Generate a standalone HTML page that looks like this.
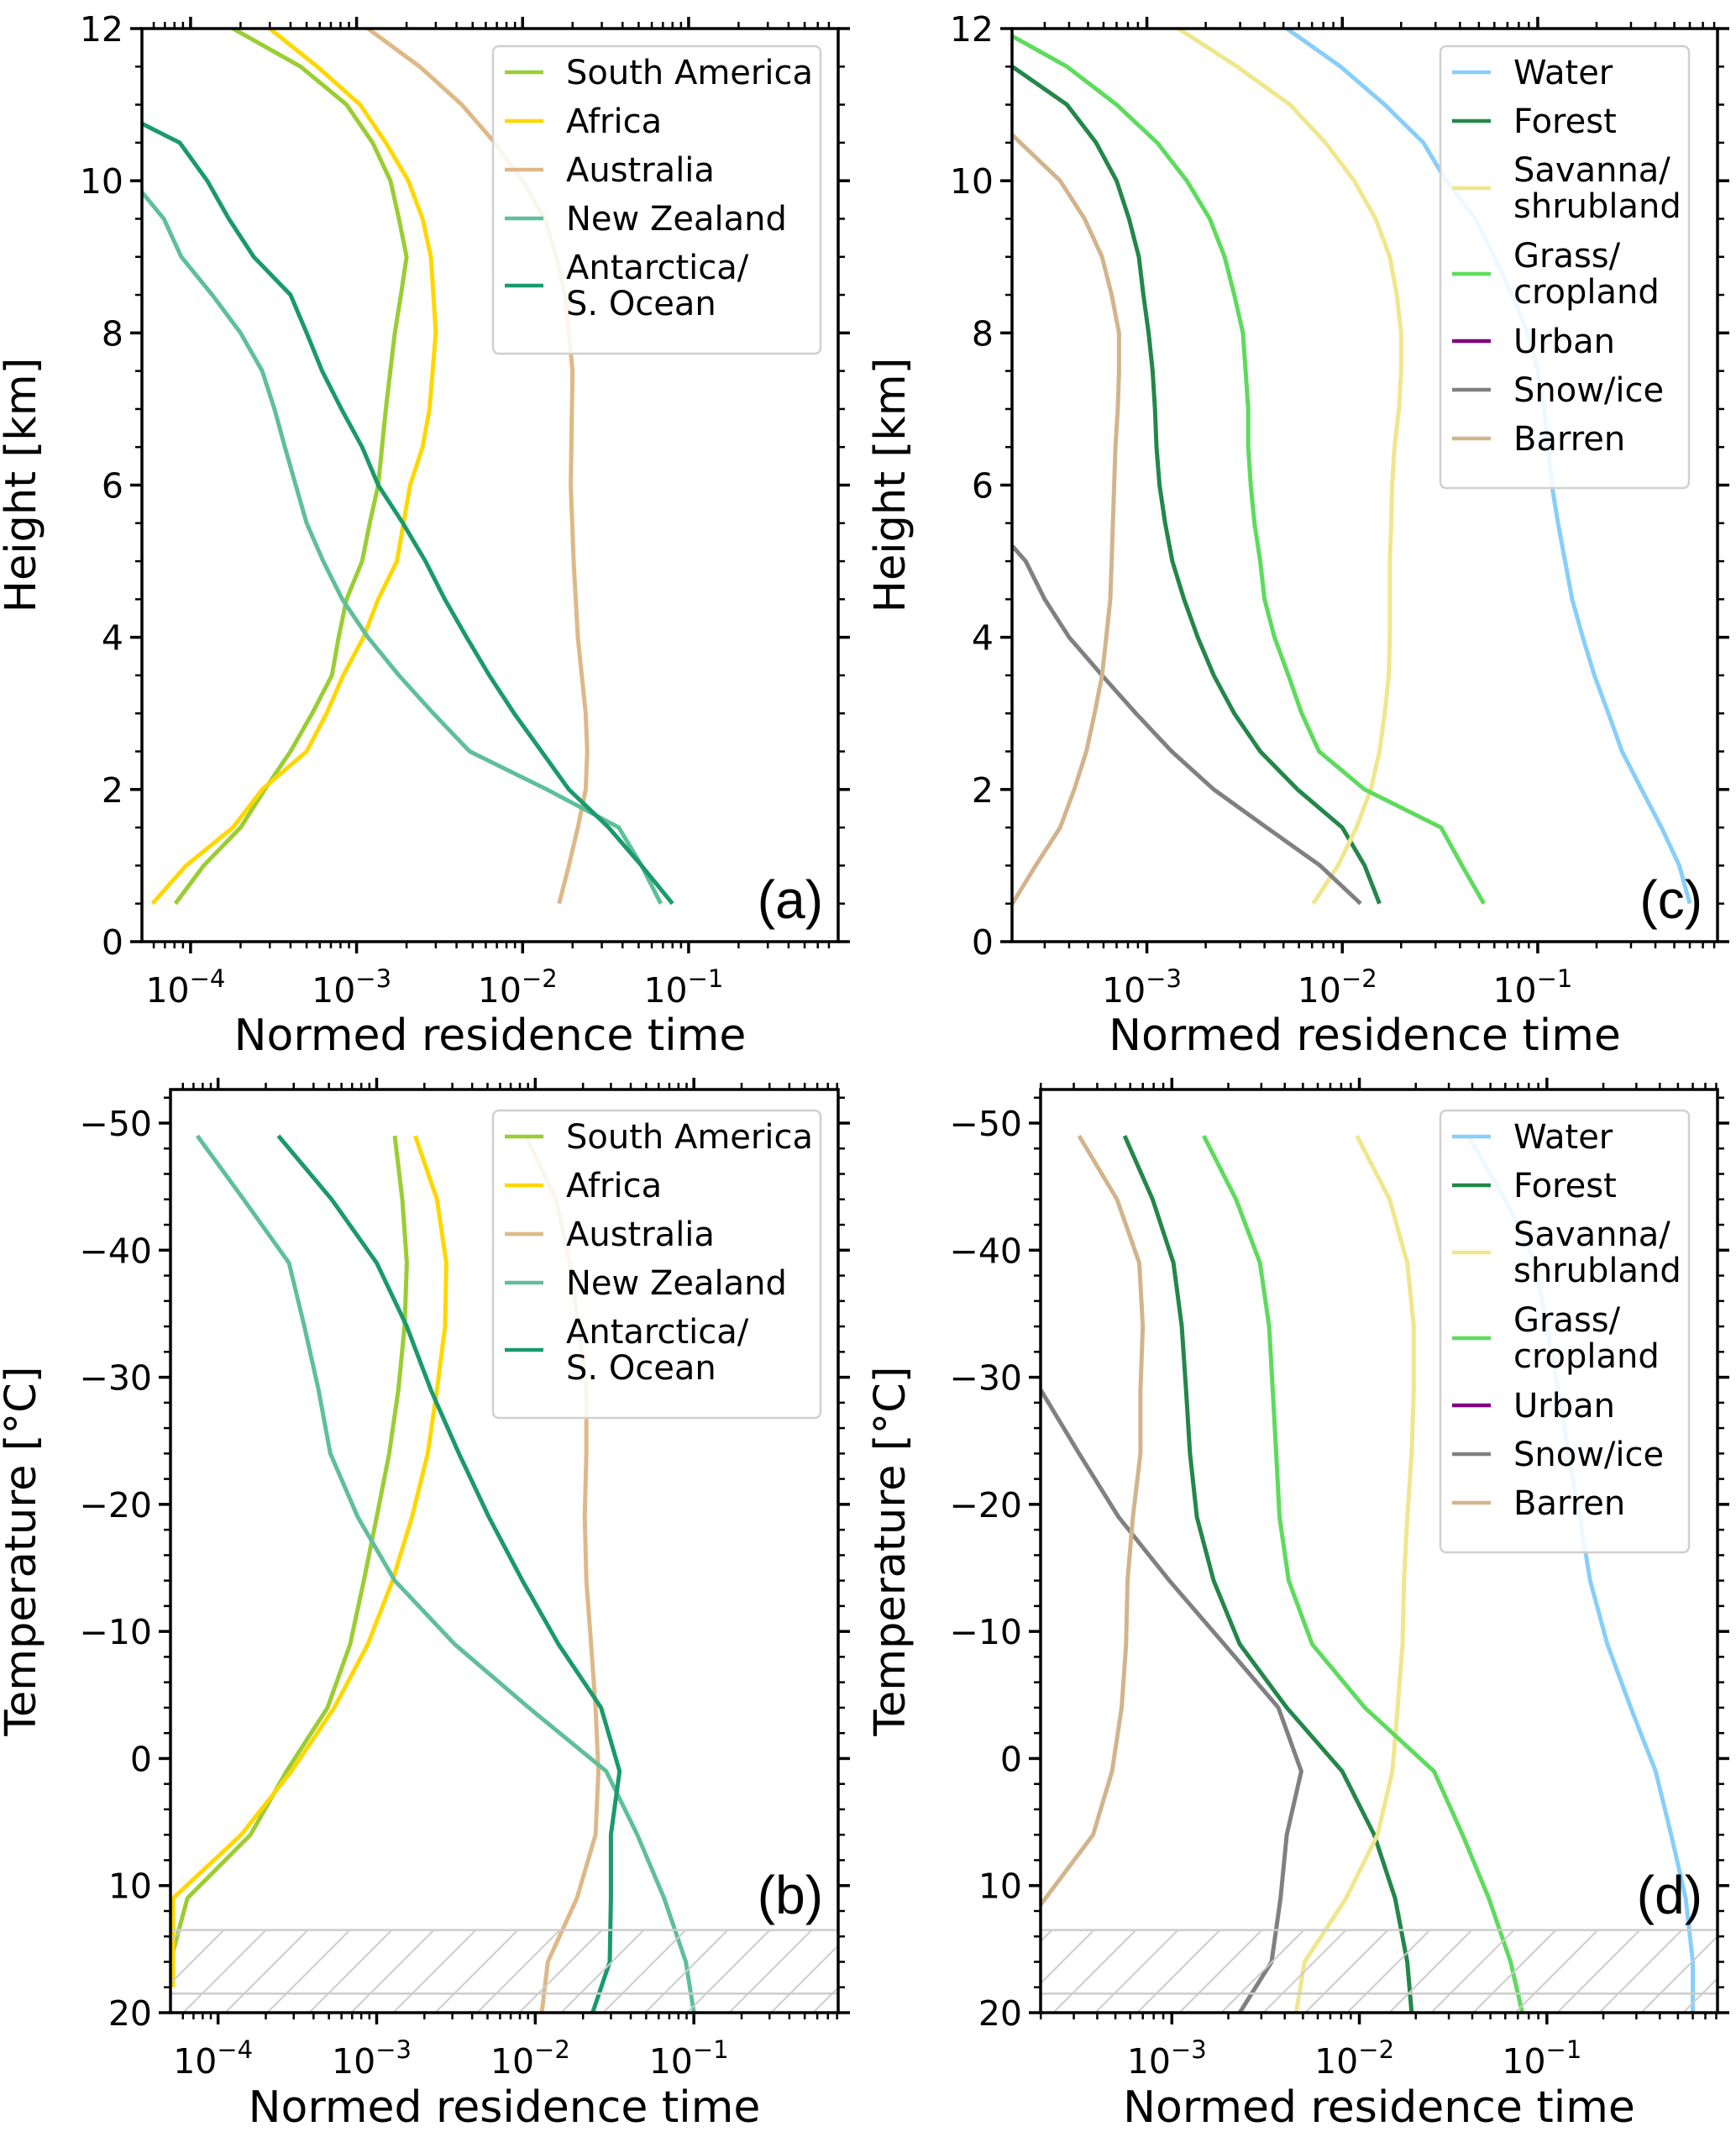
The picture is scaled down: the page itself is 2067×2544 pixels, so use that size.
<!DOCTYPE html>
<html><head><meta charset="utf-8"><style>
html,body{margin:0;padding:0;background:#fff;}
svg{display:block;font-family:"DejaVu Sans","Liberation Sans",sans-serif;}
</style></head><body>
<svg id="fig" width="2067" height="2544" viewBox="0 0 2067 2544" xmlns="http://www.w3.org/2000/svg"></svg>
<script>
// ---------- DATA ----------
// Panel (a): height [km] vs normed residence time, by region
const aSAy=[12,11.5,11,10.5,10,9.5,9,8.5,8,7,6,5.5,5,4.5,4,3.5,3,2.5,2,1.5,1,0.5];
const aSAx=[1.8e-4,4.6e-4,8.7e-4,1.25e-3,1.6e-3,1.8e-3,2.0e-3,1.85e-3,1.7e-3,1.5e-3,1.35e-3,1.2e-3,1.08e-3,8.7e-4,7.8e-4,7.1e-4,5.4e-4,4e-4,2.8e-4,2.0e-4,1.2e-4,8.1e-5];
const aAFy=[12,11.5,11,10.5,10,9.5,9,8.5,8,7,6.5,6,5,4.5,4,3.5,3,2.5,2,1.5,1,0.5];
const aAFx=[3.0e-4,5.8e-4,1.05e-3,1.5e-3,2.05e-3,2.5e-3,2.8e-3,2.9e-3,3.0e-3,2.75e-3,2.5e-3,2.1e-3,1.75e-3,1.35e-3,1.1e-3,8.3e-4,6.6e-4,5.0e-4,2.7e-4,1.8e-4,9.4e-5,5.9e-5];
const aAUy=[12,11.5,11,10.5,10,9.5,9,8.5,8,7.5,6,5,4,3,2.5,2,1.5,1,0.5];
const aAUx=[1.17e-3,2.4e-3,4.3e-3,6.8e-3,1e-2,1.36e-2,1.6e-2,1.8e-2,1.9e-2,2e-2,1.95e-2,2.03e-2,2.15e-2,2.4e-2,2.45e-2,2.4e-2,2.15e-2,1.9e-2,1.66e-2];
const aNZy=[9.85,9.5,9,8.5,8,7.5,7,6.5,6,5.5,5,4.5,4,3.5,3,2.5,2,1.5,1,0.5];
const aNZx=[5.1e-5,6.9e-5,8.8e-5,1.35e-4,2.0e-4,2.7e-4,3.2e-4,3.7e-4,4.3e-4,5e-4,6.3e-4,8.2e-4,1.17e-3,1.8e-3,2.9e-3,4.8e-3,1.4e-2,3.8e-2,5.2e-2,6.8e-2];
const aANy=[10.75,10.5,10,9.5,9,8.5,8,7.5,7,6.5,6,5.5,5,4.5,4,3.5,3,2.5,2,1.5,1,0.5];
const aANx=[5.1e-5,8.6e-5,1.26e-4,1.7e-4,2.4e-4,4e-4,5e-4,6.2e-4,8.1e-4,1.08e-3,1.35e-3,1.9e-3,2.6e-3,3.4e-3,4.6e-3,6.3e-3,8.9e-3,1.3e-2,1.9e-2,3.3e-2,5.2e-2,8e-2];
// Panel (b): temperature [°C] by region
const bT=[-49,-44,-39,-34,-29,-24,-19,-14,-9,-4,1,6,11,16,20];
const bSAx=[1.3e-3,1.45e-3,1.55e-3,1.5e-3,1.37e-3,1.2e-3,1.0e-3,8.3e-4,6.8e-4,4.9e-4,2.7e-4,1.6e-4,6.4e-5,5.0e-5];
const bAFT=[-49,-44,-39,-34,-29,-24,-19,-14,-9,-4,1,6,11,18];
const bAFx=[1.75e-3,2.4e-3,2.75e-3,2.7e-3,2.4e-3,2.1e-3,1.67e-3,1.26e-3,8.8e-4,5.4e-4,2.9e-4,1.4e-4,5.2e-5,5.2e-5];
const bAUx=[8.7e-3,1.35e-2,1.65e-2,1.87e-2,2.1e-2,2.1e-2,2.05e-2,2.1e-2,2.25e-2,2.4e-2,2.5e-2,2.4e-2,1.83e-2,1.2e-2,1.1e-2];
const bNZx=[7.4e-5,1.45e-4,2.8e-4,3.5e-4,4.3e-4,5.1e-4,7.6e-4,1.3e-3,3.1e-3,9.1e-3,2.8e-2,4.4e-2,6.5e-2,8.9e-2,1e-1];
const bANx=[2.4e-4,5.2e-4,1e-3,1.55e-3,2.2e-3,3.3e-3,5.1e-3,8.3e-3,1.4e-2,2.6e-2,3.4e-2,3.0e-2,3.0e-2,2.95e-2,2.3e-2];
// Panel (c): height by land cover
const cH=[12,11.5,11,10.5,10,9.5,9,8.5,8,7.5,7,6.5,6,5.5,5,4.5,4,3.5,3,2.5,2,1.5,1,0.5];
const cWAx=[5.2e-3,9.8e-3,1.65e-2,2.6e-2,3.4e-2,4.8e-2,6e-2,7.4e-2,8.9e-2,0.1,0.108,0.113,0.118,0.127,0.138,0.15,0.17,0.195,0.23,0.27,0.34,0.43,0.53,0.6];
const cFOy=[11.5,11,10.5,10,9.5,9,8.5,8,7.5,7,6.5,6,5.5,5,4.5,4,3.5,3,2.5,2,1.5,1,0.5];
const cFOx=[2.05e-4,3.9e-4,5.5e-4,7.0e-4,8.1e-4,9.1e-4,9.6e-4,1.02e-3,1.07e-3,1.1e-3,1.12e-3,1.16e-3,1.24e-3,1.35e-3,1.55e-3,1.82e-3,2.2e-3,2.8e-3,3.8e-3,5.9e-3,1.0e-2,1.3e-2,1.55e-2];
const cSAx=[1.45e-3,2.9e-3,5.4e-3,8.2e-3,1.15e-2,1.48e-2,1.75e-2,1.9e-2,2e-2,2e-2,1.95e-2,1.85e-2,1.8e-2,1.78e-2,1.75e-2,1.75e-2,1.75e-2,1.73e-2,1.65e-2,1.55e-2,1.4e-2,1.18e-2,9.5e-3,7.1e-3];
const cGRy=[11.9,11.5,11,10.5,10,9.5,9,8.5,8,7.5,7,6.5,6,5.5,5,4.5,4,3.5,3,2.5,2,1.5,1,0.5];
const cGRx=[2.05e-4,3.9e-4,7.0e-4,1.13e-3,1.6e-3,2.1e-3,2.5e-3,2.8e-3,3.1e-3,3.2e-3,3.3e-3,3.3e-3,3.4e-3,3.55e-3,3.8e-3,4e-3,4.5e-3,5.3e-3,6.2e-3,7.6e-3,1.3e-2,3.2e-2,4.1e-2,5.3e-2];
const cSNy=[5.2,5,4.5,4,3.5,3,2.5,2,1.5,1,0.5];
const cSNx=[2.05e-4,2.4e-4,3.0e-4,4e-4,5.9e-4,8.8e-4,1.34e-3,2.2e-3,4.1e-3,7.7e-3,1.24e-2];
const cBAy=[10.6,10,9.5,9,8.5,8,7.5,7,6.5,6,5.5,5,4.5,4,3.5,3,2.5,2,1.5,1,0.5];
const cBAx=[2.05e-4,3.6e-4,4.8e-4,5.9e-4,6.6e-4,7.2e-4,7.2e-4,7.1e-4,6.9e-4,6.8e-4,6.7e-4,6.6e-4,6.5e-4,6.2e-4,5.9e-4,5.4e-4,4.9e-4,4.25e-4,3.6e-4,2.7e-4,2.05e-4];
// Panel (d): temperature by land cover
const dT=[-49,-44,-39,-34,-29,-24,-19,-14,-9,-4,1,6,11,16,20];
const dWAx=[3.8e-2,6e-2,8.7e-2,0.1,0.115,0.13,0.15,0.17,0.21,0.28,0.38,0.46,0.55,0.6,0.6];
const dFOx=[5.6e-4,7.9e-4,1.02e-3,1.13e-3,1.19e-3,1.25e-3,1.36e-3,1.67e-3,2.3e-3,4.1e-3,8.1e-3,1.2e-2,1.55e-2,1.8e-2,1.9e-2];
const dSAx=[9.7e-3,1.45e-2,1.8e-2,1.95e-2,1.95e-2,1.9e-2,1.8e-2,1.73e-2,1.7e-2,1.6e-2,1.5e-2,1.25e-2,8.5e-3,5.1e-3,4.6e-3];
const dGRx=[1.48e-3,2.2e-3,2.95e-3,3.3e-3,3.45e-3,3.6e-3,3.75e-3,4.2e-3,5.6e-3,1.07e-2,2.5e-2,3.55e-2,4.9e-2,6.4e-2,7.4e-2];
const dSNT=[-29,-24,-19,-14,-9,-4,1,6,11,16,20];
const dSNx=[2e-4,3.2e-4,5.2e-4,9.7e-4,1.9e-3,3.7e-3,4.9e-3,4.1e-3,3.8e-3,3.4e-3,2.3e-3];
const dBAT=[-49,-44,-39,-34,-29,-24,-19,-14,-9,-4,1,6,11.5];
const dBAx=[3.2e-4,5.1e-4,6.7e-4,7e-4,6.8e-4,6.8e-4,6.2e-4,5.8e-4,5.7e-4,5.4e-4,4.8e-4,3.8e-4,2.0e-4];
// Tick labels / legend labels
const heightTicks=[0,2,4,6,8,10,12];
const tempTicks=[-50,-40,-30,-20,-10,0,10,20];
const regionNames=["South America","Africa","Australia","New Zealand","Antarctica/\nS. Ocean"];
const coverNames=["Water","Forest","Savanna/\nshrubland","Grass/\ncropland","Urban","Snow/ice","Barren"];

// ---------- DRAWING ----------
const NS="http://www.w3.org/2000/svg";
const svg=document.getElementById('fig');
function mk(tag,attrs,parent){const e=document.createElementNS(NS,tag);for(const k in attrs)e.setAttribute(k,attrs[k]);(parent||svg).appendChild(e);return e;}
const C={sa:"#9acd32",af:"#ffd700",au:"#deb887",nz:"#5fbf9a",an:"#1a9a6c",wa:"#87cefa",fo:"#23874a",sv:"#f0e68c",gr:"#5ddb5d",ur:"#800080",sn:"#808080",ba:"#d2b48c"};
const regionColors=[C.sa,C.af,C.au,C.nz,C.an];
const coverColors=[C.wa,C.fo,C.sv,C.gr,C.ur,C.sn,C.ba];

function makePanel(id,p){
  const g=mk('g',{});
  
  
  const xs=v=>p.L+(Math.log10(v)-p.lx0)/(p.lx1-p.lx0)*(p.R-p.L);
  p.xs=xs; p.g=g;
  const cp=mk('clipPath',{id:'clip-'+id},g);
  mk('rect',{x:p.L,y:p.T,width:p.R-p.L,height:p.B-p.T},cp);
  p.lines=mk('g',{'clip-path':'url(#clip-'+id+')'},g);
  return p;
}
function addHatch(p,y0,y1,yl){
  const hg=mk('g',{'clip-path':'url(#clip-'+p.id+')'},p.g);
  
  
  const Y0=p.ys(y0),Y1=p.ys(y1);
  const cp=mk('clipPath',{id:'hclip-'+p.id},p.g);
  mk('rect',{x:p.L,y:Y0,width:p.R-p.L,height:Y1-Y0},cp);
  const h2=mk('g',{'clip-path':'url(#hclip-'+p.id+')'},hg);
  for(let x=p.L-200;x<p.R+200;x+=50){mk('line',{x1:x,y1:Y1,x2:x+(Y1-Y0),y2:Y0,stroke:'#cccccc','stroke-width':2},h2);}
  mk('line',{x1:p.L,x2:p.R,y1:Y0,y2:Y0,stroke:'#cccccc','stroke-width':2.5},hg);
  mk('line',{x1:p.L,x2:p.R,y1:p.ys(yl),y2:p.ys(yl),stroke:'#cccccc','stroke-width':2.5},hg);
}
function series(p,name,xv,yv,color){
  let d='';
  for(let i=0;i<xv.length;i++){d+=(i?'L':'M')+p.xs(xv[i]).toFixed(1)+','+p.ys(yv[i]).toFixed(1);}
  const path=mk('path',{d:d,fill:'none',stroke:color,'stroke-width':5,'stroke-linejoin':'round'},p.lines);
  
  
}
function axes(p,yticks,minorStep,ylabel,xlabel,plabel){
  const g=p.g;
  mk('rect',{x:p.L,y:p.T,width:p.R-p.L,height:p.B-p.T,fill:'none',stroke:'#000','stroke-width':3.5},g);
  const xt=mk('g',{},g);
  
  
  for(let e=-5;e<=1;e++){
    for(let m=1;m<10;m++){
      const v=m*Math.pow(10,e); const lv=Math.log10(v);
      if(lv<p.lx0-1e-9||lv>p.lx1+1e-9)continue;
      const x=p.xs(v); const len=m===1?14:8; const w=m===1?3.5:2.5;
      mk('line',{x1:x,x2:x,y1:p.B,y2:p.B+len,stroke:'#000','stroke-width':w},xt);
      mk('line',{x1:x,x2:x,y1:p.T,y2:p.T-len,stroke:'#000','stroke-width':w},xt);
      if(m===1&&e<0){
        const t=mk('text',{x:x-6,y:p.B+72,'font-size':41,'text-anchor':'middle'},xt);
        
        
        t.appendChild(document.createTextNode('10'));
        const s=mk('tspan',{dy:-18,'font-size':29},t); s.textContent='\u2212'+(-e);
      }
    }
  }
  const yt=mk('g',{},g);
  
  
  const ymin=Math.min(p.y0,p.y1), ymax=Math.max(p.y0,p.y1);
  for(let v=Math.ceil(ymin/minorStep)*minorStep;v<=ymax+1e-9;v+=minorStep){
    const y=p.ys(v); const maj=yticks.some(t=>Math.abs(t-v)<1e-6);
    const len=maj?14:8,w=maj?3.5:2.5;
    mk('line',{x1:p.L,x2:p.L-len,y1:y,y2:y,stroke:'#000','stroke-width':w},yt);
    mk('line',{x1:p.R,x2:p.R+len,y1:y,y2:y,stroke:'#000','stroke-width':w},yt);
  }
  yticks.forEach(v=>{
    const t=mk('text',{x:p.L-22,y:p.ys(v)+15,'font-size':41,'text-anchor':'end'},yt);
    
    
    t.textContent=(v<0?'\u2212':'')+Math.abs(v);
  });
  const yl=mk('text',{x:0,y:0,'font-size':51,'text-anchor':'middle',transform:'translate('+p.ylx+','+((p.T+p.B)/2)+') rotate(-90)'},g);
  
  
  yl.textContent=ylabel;
  const xl=mk('text',{x:(p.L+p.R)/2+p.xlOff,y:p.xly,'font-size':52,'text-anchor':'middle'},g);
  
  
  xl.textContent=xlabel;
  const pl=mk('text',{x:p.R-18,y:p.B-p.plOff,'font-size':64,'text-anchor':'end',
    'font-family':'"Liberation Sans",sans-serif'},g);
  
  
  pl.textContent=plabel;
}
function legend(p,x,y,w,names,colors){
  const lg=mk('g',{},p.g);
  
  
  let h=20; names.forEach(n=>{h+=n.includes('\n')?102:58;}); h+=12;
  mk('rect',{x:x,y:y,width:w,height:h,rx:7,fill:'#fff','fill-opacity':0.85,stroke:'#d0d0d0','stroke-width':2.5},lg);
  let cy=y+31;
  names.forEach((n,i)=>{
    const two=n.includes('\n');
    const ent=mk('g',{},lg);
    
    
    const ly=two?cy+22:cy;
    mk('line',{x1:x+14,x2:x+60,y1:ly,y2:ly,stroke:colors[i],'stroke-width':4.5},ent);
    const parts=n.split('\n');
    parts.forEach((s,j)=>{
      const t=mk('text',{x:x+87,y:cy+14+j*43,'font-size':40},ent);
      t.textContent=s;
    });
    cy+=two?102:58;
  });
}

const pa=makePanel('a',{id:'a',L:169,R:998,T:34,B:1121,lx0:-4.293,lx1:-0.099,y0:0,y1:12,ylx:42,xly:1250,xlOff:0,plOff:28});
pa.ys=v=>pa.B-(v-pa.y0)/(pa.y1-pa.y0)*(pa.B-pa.T);
series(pa,'line-south-america',aSAx,aSAy,C.sa);
series(pa,'line-africa',aAFx,aAFy,C.af);
series(pa,'line-australia',aAUx,aAUy,C.au);
series(pa,'line-new-zealand',aNZx,aNZy,C.nz);
series(pa,'line-antarctica',aANx,aANy,C.an);
axes(pa,heightTicks,0.5,'Height [km]','Normed residence time','(a)');
legend(pa,587,55,390,regionNames,regionColors);

const pb=makePanel('b',{id:'b',L:203,R:998,T:1297,B:2396,lx0:-4.30,lx1:-0.09,y0:-52.6,y1:20,ylx:42,xly:2526,xlOff:0,plOff:118});
pb.ys=v=>1337+(v+50)*(2396-1337)/70;
addHatch(pb,13.5,21,18.5);
series(pb,'line-south-america',bSAx,bT.slice(0,bSAx.length),C.sa);
series(pb,'line-africa',bAFx,bAFT,C.af);
series(pb,'line-australia',bAUx,bT,C.au);
series(pb,'line-new-zealand',bNZx,bT,C.nz);
series(pb,'line-antarctica',bANx,bT,C.an);
axes(pb,tempTicks,2,'Temperature [\u00b0C]','Normed residence time','(b)');
legend(pb,587,1322,390,regionNames,regionColors);

const pc=makePanel('c',{id:'c',L:1205,R:2045,T:34,B:1121,lx0:-3.69,lx1:-0.08,y0:0,y1:12,ylx:1077,xly:1250,xlOff:0,plOff:28});
pc.ys=v=>pc.B-(v-pc.y0)/(pc.y1-pc.y0)*(pc.B-pc.T);
series(pc,'line-water',cWAx,cH,C.wa);
series(pc,'line-forest',cFOx,cFOy,C.fo);
series(pc,'line-savanna',cSAx,cH,C.sv);
series(pc,'line-grass',cGRx,cGRy,C.gr);
series(pc,'line-snow-ice',cSNx,cSNy,C.sn);
series(pc,'line-barren',cBAx,cBAy,C.ba);
axes(pc,heightTicks,0.5,'Height [km]','Normed residence time','(c)');
legend(pc,1715,55,296,coverNames,coverColors);

const pd=makePanel('d',{id:'d',L:1239,R:2045,T:1297,B:2396,lx0:-3.70,lx1:-0.09,y0:-52.6,y1:20,ylx:1077,xly:2526,xlOff:0,plOff:118});
pd.ys=v=>1337+(v+50)*(2396-1337)/70;
addHatch(pd,13.5,21,18.5);
series(pd,'line-water',dWAx,dT,C.wa);
series(pd,'line-forest',dFOx,dT,C.fo);
series(pd,'line-savanna',dSAx,dT,C.sv);
series(pd,'line-grass',dGRx,dT,C.gr);
series(pd,'line-snow-ice',dSNx,dSNT,C.sn);
series(pd,'line-barren',dBAx,dBAT,C.ba);
axes(pd,tempTicks,2,'Temperature [\u00b0C]','Normed residence time','(d)');
legend(pd,1715,1322,296,coverNames,coverColors);
</script>
</body></html>
